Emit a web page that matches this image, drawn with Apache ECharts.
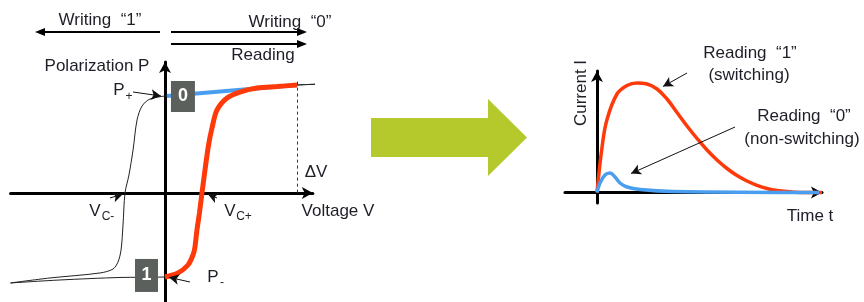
<!DOCTYPE html>
<html>
<head>
<meta charset="utf-8">
<script src="https://cdn.jsdelivr.net/npm/echarts@6/dist/echarts.min.js"></script>
<style>
    html, body { margin: 0; padding: 0; background: #fff; }
    #chart { width: 864px; height: 302px; }
</style>
</head>
<body>
<div id="chart"></div>
<script>
//P-V hysteresis loop (voltage V, polarization P), black thin loop
var loopV = [1.2, 1.0, 0.644, 0.227, 0, -0.114, -0.174, -0.212, -0.242, -0.273, -0.303, -0.318, -0.333, -0.356, -0.394, -0.492, -0.871, -1.17, -0.795, -0.341, 0, 0.098, 0.174, 0.212, 0.227, 0.242, 0.261, 0.28, 0.303, 0.33, 0.356, 0.394, 0.47, 0.568, 0.697, 0.848, 1.0, 1.2];
var loopP = [1.135, 1.125, 1.083, 1.042, 1.01, 0.979, 0.906, 0.76, 0.448, 0.188, 0, -0.333, -0.594, -0.719, -0.792, -0.833, -0.885, -0.937, -0.906, -0.88, -0.875, -0.833, -0.75, -0.646, -0.563, -0.385, -0.208, 0, 0.24, 0.5, 0.677, 0.865, 0.99, 1.052, 1.094, 1.109, 1.125, 1.135];
//reading "1": switching path from P- up to the top
var switchV = [0, 0.098, 0.174, 0.212, 0.227, 0.242, 0.261, 0.28, 0.303, 0.33, 0.356, 0.394, 0.47, 0.568, 0.697, 0.848, 1.0];
var switchP = [-0.875, -0.833, -0.75, -0.646, -0.563, -0.385, -0.208, 0, 0.24, 0.5, 0.677, 0.865, 0.99, 1.052, 1.094, 1.109, 1.125];
//reading "0": non-switching path from P+
var holdV = [0.015, 1.0];
var holdP = [1.01, 1.125];
//current vs time
var tSwitch = [0, 0.5, 1, 2, 3, 4, 5, 6, 7, 8, 9, 10, 11, 12, 13, 14, 15, 16, 17, 18, 19.5, 21, 22.5];
var iSwitch = [0, 4.5, 7.3, 9.85, 10.7, 10.95, 10.85, 10.35, 9.35, 8.0, 6.65, 5.4, 4.25, 3.25, 2.4, 1.7, 1.15, 0.72, 0.4, 0.2, 0.05, 0, 0];
var tHold = [0, 0.3, 0.8, 1.3, 1.8, 2.3, 3.0, 4.3, 7.6, 22.2];
var iHold = [0, 0.95, 1.75, 1.95, 1.55, 0.95, 0.55, 0.3, 0.1, 0];

var RED = '#ff3a0a', BLUE = '#4a9ef0', INK = '#1e1e28', BOX = '#5b605d';
var FONT = '"Liberation Sans", Arial, sans-serif';

function pairs(xs, ys) {
    return xs.map(function (x, i) { return [x, ys[i]]; });
}

function axisX(grid, min, max) {
    return {
        type: 'value', gridIndex: grid, min: min, max: max,
        axisLine: { onZero: true, symbol: ['none', 'arrow'], symbolSize: [9, 11], lineStyle: { color: '#000', width: 3 } },
        axisTick: { show: false }, axisLabel: { show: false }, splitLine: { show: false }
    };
}

//pointer arrows
function pointer(a, b) {
    return [{ coord: a }, { coord: b }];
}
function pointerLines(list) {
    return {
        silent: true, animation: false, symbol: ['none', 'arrow'], symbolSize: [8, 10],
        label: { show: false }, lineStyle: { color: '#111', width: 1, type: 'solid' },
        emphasis: { disabled: true }, data: list
    };
}

function txt(s, x, y, size, extra) {
    var el = {
        type: 'text', x: x, y: y, silent: true,
        style: { text: s, font: size + 'px ' + FONT, fill: INK, align: 'center', verticalAlign: 'middle' }
    };
    if (extra) Object.keys(extra).forEach(function (k) { el[k] = extra[k]; });
    return el;
}
function hline(x1, x2, y) {
    return { type: 'line', silent: true, shape: { x1: x1, y1: y, x2: x2, y2: y }, style: { stroke: '#000', lineWidth: 2 } };
}
function head(tip, y, dir) {
    var b = tip - dir * 10;
    return { type: 'polygon', silent: true, shape: { points: [[tip, y], [b, y - 4], [b, y + 4]] }, style: { fill: '#000' } };
}

var chart = echarts.init(document.getElementById('chart'), null, { renderer: 'canvas' });
var option = {
    animation: false,
    backgroundColor: '#fff',
    grid: [
        { left: 10.56, top: 61.96, width: 302.28, height: 240, containLabel: false, outerBoundsMode: 'none' },
        { left: 565, top: 71, width: 257, height: 132, containLabel: false, outerBoundsMode: 'none' }
    ],
    xAxis: [axisX(0, -1.17, 1.12), axisX(1, -3.2, 22.5)],
    yAxis: [axisX(0, -1.135, 1.365), axisX(1, -1.05, 12.15)],
    series: [
        {
            name: 'loop', type: 'line', xAxisIndex: 0, yAxisIndex: 0, data: pairs(loopV, loopP),
            smooth: 0.3, symbol: 'none', lineStyle: { color: '#222', width: 1 },
            markLine: {
                silent: true, animation: false, symbol: 'none', label: { show: false },
                lineStyle: { color: '#333', width: 1, type: [3, 3] }, emphasis: { disabled: true },
                data: [[{ coord: [1.0, 1.16] }, { coord: [1.0, 0] }]]
            }
        },
        {
            name: 'read0', type: 'line', xAxisIndex: 0, yAxisIndex: 0, data: pairs(holdV, holdP),
            symbol: 'none', lineStyle: { color: BLUE, width: 4 }
        },
        {
            name: 'read1', type: 'line', xAxisIndex: 0, yAxisIndex: 0, data: pairs(switchV, switchP),
            smooth: 0.3, symbol: 'none', lineStyle: { color: RED, width: 5 },
            markLine: pointerLines([
                pointer([-0.242, 1.052], [-0.03, 1.01]),
                pointer([-0.417, -0.052], [-0.32, -0.012]),
                pointer([0.394, -0.052], [0.325, -0.012]),
                pointer([0.189, -0.927], [0.03, -0.878])
            ]),
            markPoint: {
                silent: true, animation: false, symbol: 'rect',
                itemStyle: { color: BOX },
                label: { show: true, position: 'inside', color: '#fff', fontSize: 18, fontWeight: 'bold', fontFamily: FONT },
                data: [
                    { coord: [0.136, 1.005], symbolSize: [24, 31], label: { formatter: '0' } },
                    { coord: [-0.14, -0.859], symbolSize: [23, 33], label: { formatter: '1' } }
                ]
            }
        },
        {
            name: 'I1', type: 'line', xAxisIndex: 1, yAxisIndex: 1, data: pairs(tSwitch, iSwitch),
            smooth: 0.4, symbol: 'none', lineStyle: { color: RED, width: 3.5 }
        },
        {
            name: 'I0', type: 'line', xAxisIndex: 1, yAxisIndex: 1, data: pairs(tHold, iHold),
            smooth: 0.4, symbol: 'none', lineStyle: { color: BLUE, width: 3.5 },
            markLine: pointerLines([
                pointer([9.0, 11.95], [6.6, 10.6]),
                pointer([13.8, 6.55], [3.4, 1.9])
            ])
        }
    ],
    graphic: [
        //top arrows
        hline(44, 160, 32), head(35, 32, -1),
        hline(171, 298, 32), head(307, 32, 1),
        hline(171, 298, 44), head(307, 44, 1),
        txt('Writing  “1”', 100, 20, 17),
        txt('Writing  “0”', 290, 22, 17),
        txt('Reading', 263, 55, 17),
        txt('Polarization P', 97, 66, 17),
        txt('P', 119, 90, 17), txt('+', 129, 97, 12),
        txt('V', 95, 211, 17), txt('C-', 108, 217, 12),
        txt('V', 230, 211, 17), txt('C+', 244, 217, 12),
        txt('P', 213, 277, 17), txt('-', 222, 283, 12),
        txt('ΔV', 316, 172, 17),
        txt('Voltage V', 338, 211, 17),
        //big green arrow
        {
            type: 'polygon', silent: true,
            shape: { points: [[371, 118], [488, 118], [488, 99], [527, 137.5], [488, 176], [488, 157], [371, 157]] },
            style: { fill: '#b5c92c' }
        },
        txt('Current I', 581, 93, 17, { rotation: Math.PI / 2 }),
        txt('Time t', 810, 216, 17),
        txt('Reading  “1”', 750, 53, 17),
        txt('(switching)', 749, 75, 17),
        txt('Reading  “0”', 804, 116, 17),
        txt('(non-switching)', 802, 139, 17)
    ]
};
chart.setOption(option);
</script>
</body>
</html>
